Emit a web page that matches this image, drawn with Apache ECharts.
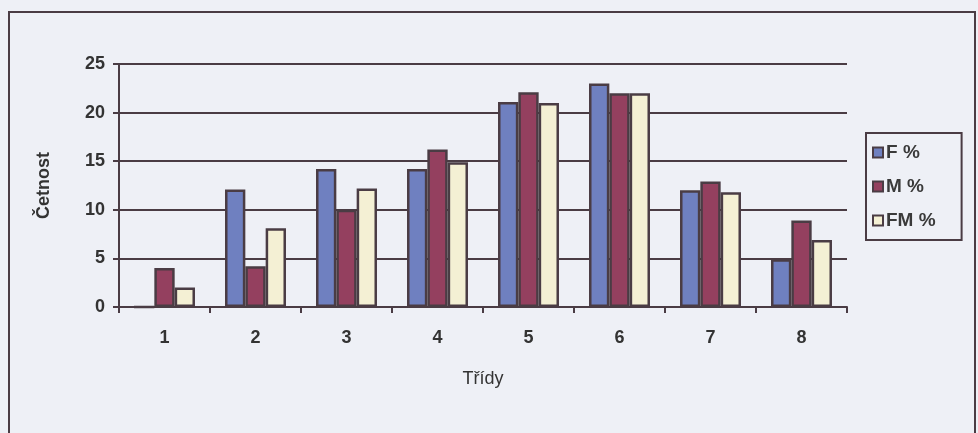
<!DOCTYPE html>
<html>
<head>
<meta charset="utf-8">
<script src="https://cdn.jsdelivr.net/npm/echarts@6/dist/echarts.min.js"></script>
<style>
  html, body { margin: 0; padding: 0; background: #eef0f6; }
  #chart { width: 978px; height: 433px; }
</style>
</head>
<body>
<div id="chart"></div>
<script>
// Classes on the x axis
var categories = ['1', '2', '3', '4', '5', '6', '7', '8'];
// Relative frequency per class (%)
var seriesF = [0, 12.1, 14.2, 14.2, 21.1, 23.0, 12.0, 4.9];
var seriesM = [4.0, 4.2, 10.0, 16.2, 22.1, 22.0, 12.9, 8.9];
var seriesFM = [2.0, 8.1, 12.2, 14.9, 21.0, 22.0, 11.8, 6.9];
var seriesNames = ['F %', 'M %', 'FM %'];
var yTicks = { min: 0, max: 25, interval: 5 };

var ink = '#4a3c44';
var font = '"Liberation Sans", Arial, sans-serif';

var chart = echarts.init(document.getElementById('chart'));

function bar(name, data, color) {
  return {
    name: name,
    type: 'bar',
    data: data,
    barGap: '0%',
    barCategoryGap: '33%',
    itemStyle: { color: color, borderColor: ink, borderWidth: 2.5 }
  };
}

chart.setOption({
  backgroundColor: '#eef0f6',
  animation: false,
  graphic: [{
    type: 'rect',
    shape: { x: 9, y: 12, width: 966, height: 460 },
    style: { fill: 'none', stroke: ink, lineWidth: 2 },
    silent: true
  }],
  grid: { left: 119, right: 131, top: 64, bottom: 126 },
  legend: {
    orient: 'vertical',
    left: 866,
    top: 133,
    padding: [10, 26, 10, 6],
    itemGap: 15,
    itemWidth: 10,
    itemHeight: 10,
    borderColor: ink,
    borderWidth: 2,
    icon: 'rect',
    textStyle: { fontFamily: font, fontWeight: 'bold', fontSize: 19, color: '#3a3a3a', padding: [0, 0, 0, -2] },
    data: seriesNames
  },
  xAxis: {
    type: 'category',
    data: categories,
    name: 'Třídy',
    nameLocation: 'middle',
    nameGap: 63,
    nameTextStyle: { fontFamily: font, fontSize: 18, color: '#333' },
    axisLine: { lineStyle: { color: ink, width: 2 } },
    axisTick: { show: true, length: 6, lineStyle: { color: ink, width: 2 } },
    axisLabel: { margin: 22, fontFamily: font, fontWeight: 'bold', fontSize: 18, color: '#333' }
  },
  yAxis: {
    type: 'value',
    min: yTicks.min,
    max: yTicks.max,
    interval: yTicks.interval,
    name: 'Četnost',
    nameLocation: 'middle',
    nameGap: 66,
    nameTextStyle: { fontFamily: font, fontWeight: 'bold', fontSize: 18, color: '#333' },
    axisLine: { show: true, lineStyle: { color: ink, width: 2 } },
    axisTick: { show: true, length: 6, lineStyle: { color: ink, width: 2 } },
    axisLabel: { margin: 14, fontFamily: font, fontWeight: 'bold', fontSize: 18, color: '#333' },
    splitLine: { lineStyle: { color: ink, width: 2 } }
  },
  series: [
    bar(seriesNames[0], seriesF, '#6f80c0'),
    bar(seriesNames[1], seriesM, '#94405f'),
    bar(seriesNames[2], seriesFM, '#f4f0d4')
  ]
});
</script>
</body>
</html>
